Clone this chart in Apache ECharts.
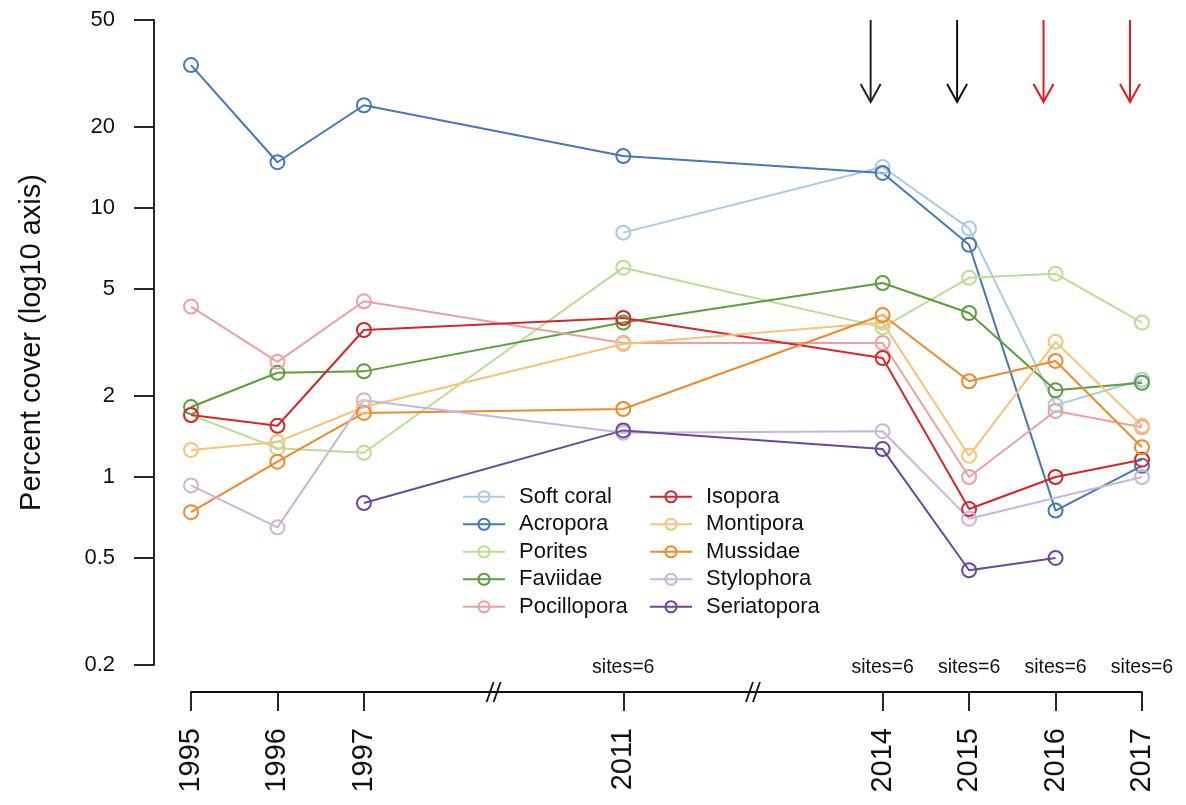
<!DOCTYPE html>
<html>
<head>
<meta charset="utf-8">
<script src="https://cdn.jsdelivr.net/npm/echarts@6/dist/echarts.min.js"></script>
<style>
html,body{margin:0;padding:0;background:#fff;}
#chart{width:1186px;height:805px;}
</style>
</head>
<body>
<div id="chart"></div>
<script>
// ---------- data ----------
const years = ['1995','1996','1997','2011','2014','2015','2016','2017'];
const xPos = [0, 1, 2, 5, 8, 9, 10, 11];          // compressed (broken) time axis positions
const seriesNames = ['Soft coral','Acropora','Porites','Faviidae','Pocillopora',
                     'Isopora','Montipora','Mussidae','Stylophora','Seriatopora'];
const softCoral   = [null, null, null, 8.1, 14.2, 8.4, 1.85, 2.3];
const acropora    = [34, 14.8, 24.1, 15.6, 13.5, 7.3, 0.75, 1.1];
const porites     = [1.7, 1.28, 1.23, 6.0, 3.6, 5.5, 5.7, 3.75];
const faviidae    = [1.82, 2.44, 2.47, 3.75, 5.26, 4.07, 2.1, 2.24];
const pocillopora = [4.3, 2.68, 4.5, 3.15, 3.15, 1.0, 1.76, 1.53];
const isopora     = [1.7, 1.55, 3.52, 3.9, 2.77, 0.76, 1.0, 1.16];
const montipora   = [1.26, 1.35, 1.82, 3.12, 3.75, 1.2, 3.18, 1.55];
const mussidae    = [0.74, 1.14, 1.73, 1.79, 4.0, 2.27, 2.7, 1.29];
const stylophora  = [0.93, 0.65, 1.93, 1.46, 1.48, 0.70, null, 1.0];
const seriatopora = [null, null, 0.8, 1.49, 1.27, 0.45, 0.5, null];
const yTicks = [0.2, 0.5, 1, 2, 5, 10, 20, 50];
const yTickLabels = ['0.2', '0.5', '1', '2', '5', '10', '20', '50'];
const arrowYears = ['2014', '2015', '2016', '2017'];
const siteYears = ['2011', '2014', '2015', '2016', '2017'];
const siteText = 'sites=6';
const breakPositions = [3.5, 6.5];

// ---------- styles ----------
const colors = ['#a9cbe2','#4677b6','#b9de94','#5b9e3c','#eba1a1',
                '#d3282a','#f6c378','#ef8a2c','#cab4da','#6a479c'];
const arrowColors = ['#222222','#111111','#e8151b','#e8151b'];
const FONT = "'Liberation Sans', Arial, Helvetica, sans-serif";

const allValues = [softCoral, acropora, porites, faviidae, pocillopora,
                   isopora, montipora, mussidae, stylophora, seriatopora];

const posOf = y => xPos[years.indexOf(y)];

const lineSeries = seriesNames.map((name, i) => ({
  name: name,
  type: 'line',
  data: xPos.map((x, j) => [x, allValues[i][j]]),
  connectNulls: true,
  clip: false,
  symbol: 'circle',
  symbolSize: 14,
  lineStyle: { color: colors[i], width: 2 },
  itemStyle: { color: 'rgba(255,255,255,0)', borderColor: colors[i], borderWidth: 2 },
  emphasis: { disabled: true },
  z: 3
}));

const arrowSeries = {
  type: 'custom',
  name: 'arrows',
  clip: false,
  silent: true,
  data: arrowYears.map(y => [posOf(y), 50]),
  renderItem: function (params, api) {
    const p = api.coord([api.value(0), api.value(1)]);
    const x = p[0] - 12, top = p[1], tip = p[1] + 82;
    const c = arrowColors[params.dataIndex];
    return {
      type: 'group',
      children: [
        { type: 'line', shape: { x1: x, y1: top, x2: x, y2: tip },
          style: { stroke: c, lineWidth: 2 } },
        { type: 'polyline', shape: { points: [[x - 10, tip - 18], [x, tip], [x + 10, tip - 18]] },
          style: { stroke: c, lineWidth: 2, fill: null } }
      ]
    };
  },
  z: 4
};

const siteSeries = {
  type: 'custom',
  name: 'sites',
  clip: false,
  silent: true,
  data: siteYears.map(y => [posOf(y), 0.2]),
  renderItem: function (params, api) {
    const p = api.coord([api.value(0), api.value(1)]);
    return {
      type: 'text',
      style: { text: siteText, x: p[0], y: p[1] + 3, align: 'center', verticalAlign: 'middle',
               font: '19.5px ' + FONT, fill: '#111' }
    };
  },
  z: 4
};

const breakSeries = {
  type: 'custom',
  name: 'breaks',
  clip: false,
  silent: true,
  data: breakPositions.map(b => [b, 0.2]),
  renderItem: function (params, api) {
    const p = api.coord([api.value(0), api.value(1)]);
    const cs = params.coordSys;
    const ay = cs.y + cs.height + 27;
    const cx = p[0];
    const mk = off => ({ type: 'line',
      shape: { x1: cx + off - 3.5, y1: ay + 10, x2: cx + off + 3.5, y2: ay - 10 },
      style: { stroke: '#111', lineWidth: 1.8 } });
    return { type: 'group', children: [mk(-3.5), mk(3.5)] };
  },
  z: 5
};

const legendCommon = {
  orient: 'vertical',
  top: 478,
  itemWidth: 42,
  itemHeight: 14,
  itemGap: 0,
  selectedMode: false,
  textStyle: { fontSize: 22, lineHeight: 27.5, color: '#111', fontFamily: FONT, padding: [0, 0, 0, 9] }
};

const option = {
  animation: false,
  backgroundColor: '#fff',
  textStyle: { fontFamily: FONT },
  grid: { left: 191, right: 44, top: 20, bottom: 140, containLabel: false },
  legend: [
    Object.assign({}, legendCommon, { left: 457, data: seriesNames.slice(0, 5) }),
    Object.assign({}, legendCommon, { left: 644, data: seriesNames.slice(5) })
  ],
  xAxis: {
    type: 'value',
    min: 0,
    max: 11,
    offset: 27,
    splitLine: { show: false },
    axisLine: { show: true, onZero: false, lineStyle: { color: '#111', width: 1.8 } },
    axisTick: { show: true, length: 19, inside: false, customValues: xPos,
                lineStyle: { color: '#111', width: 1.8 } },
    axisLabel: {
      customValues: xPos,
      rotate: 90,
      margin: 36,
      fontSize: 29,
      color: '#111',
      fontFamily: FONT,
      formatter: v => years[xPos.indexOf(Math.round(v))] || ''
    }
  },
  yAxis: {
    type: 'log',
    logBase: 10,
    min: 0.2,
    max: 50,
    offset: 37,
    name: 'Percent cover (log10 axis)',
    nameLocation: 'middle',
    nameGap: 108,
    nameTextStyle: { fontSize: 29, color: '#111', fontFamily: FONT },
    splitLine: { show: false },
    axisLine: { show: true, onZero: false, lineStyle: { color: '#111', width: 1.8 } },
    axisTick: { show: true, length: 20, inside: false, customValues: yTicks,
                lineStyle: { color: '#111', width: 1.8 } },
    axisLabel: {
      customValues: yTicks,
      margin: 39,
      fontSize: 22,
      color: '#111',
      fontFamily: FONT,
      formatter: v => {
        let best = 0, d = Infinity;
        yTicks.forEach((t, k) => { const e = Math.abs(Math.log(t) - Math.log(v)); if (e < d) { d = e; best = k; } });
        return yTickLabels[best];
      }
    }
  },
  series: lineSeries.concat([arrowSeries, siteSeries, breakSeries])
};

const chart = echarts.init(document.getElementById('chart'), null, { renderer: 'canvas' });
chart.setOption(option);
</script>
</body>
</html>
